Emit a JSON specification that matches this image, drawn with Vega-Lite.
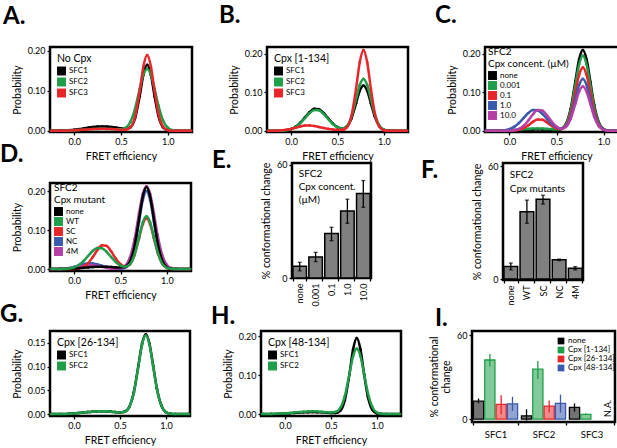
{
  "$schema": "https://vega.github.io/schema/vega-lite/v6.json",
  "background": "white",
  "padding": {"left": -2, "top": 2, "right": 0, "bottom": 0},
  "config": {
    "font": "Lato",
    "view": {"stroke": "black", "strokeWidth": 2.5},
    "axis": {"grid": false, "domain": false, "tickColor": "black", "tickWidth": 1.3, "tickSize": 3, "labelColor": "black", "labelFontSize": 9, "titleColor": "black", "titleFontSize": 10.5, "titleFontWeight": "normal", "labelPadding": 2, "titlePadding": 5},
    "legend": {"orient": "top-left", "offset": 7, "padding": 0, "titleFontSize": 10.5, "titleFontWeight": "normal", "titleColor": "black", "labelFontSize": 8, "labelColor": "black", "symbolType": "square", "symbolSize": 80, "symbolStrokeWidth": 0, "symbolOpacity": 1, "rowPadding": 2, "titlePadding": 2, "labelOffset": 3},
    "title": {"fontSize": 24, "fontWeight": "bold", "anchor": "start", "frame": "group", "offset": 0, "baseline": "top", "color": "black"},
    "point": {"filled": true, "size": 7, "opacity": 1}
  },
  "datasets": {
    "A": [
      {"s":"SFC1","x":-0.25,"y":0.0001},{"s":"SFC1","x":-0.15,"y":0.0005},{"s":"SFC1","x":-0.05,"y":0.0017},{"s":"SFC1","x":0,"y":0.0027},{"s":"SFC1","x":0.05,"y":0.0042},{"s":"SFC1","x":0.1,"y":0.0059},{"s":"SFC1","x":0.15,"y":0.0078},{"s":"SFC1","x":0.2,"y":0.0094},{"s":"SFC1","x":0.25,"y":0.0106},{"s":"SFC1","x":0.3,"y":0.011},{"s":"SFC1","x":0.35,"y":0.0106},{"s":"SFC1","x":0.4,"y":0.0094},{"s":"SFC1","x":0.45,"y":0.0078},{"s":"SFC1","x":0.5,"y":0.006},{"s":"SFC1","x":0.55,"y":0.0049},{"s":"SFC1","x":0.6,"y":0.0088},{"s":"SFC1","x":0.65,"y":0.031},{"s":"SFC1","x":0.7,"y":0.0867},{"s":"SFC1","x":0.74,"y":0.1406},{"s":"SFC1","x":0.78,"y":0.1653},{"s":"SFC1","x":0.82,"y":0.1403},{"s":"SFC1","x":0.86,"y":0.0859},{"s":"SFC1","x":0.9,"y":0.038},{"s":"SFC1","x":0.95,"y":0.0087},{"s":"SFC1","x":1,"y":0.0012},{"s":"SFC1","x":1.05,"y":0.0001},{"s":"SFC1","x":1.1,"y":0},{"s":"SFC1","x":1.25,"y":0},
      {"s":"SFC2","x":-0.25,"y":0.0001},{"s":"SFC2","x":-0.15,"y":0.0002},{"s":"SFC2","x":-0.05,"y":0.0008},{"s":"SFC2","x":0,"y":0.0012},{"s":"SFC2","x":0.05,"y":0.0019},{"s":"SFC2","x":0.1,"y":0.0027},{"s":"SFC2","x":0.15,"y":0.0035},{"s":"SFC2","x":0.2,"y":0.0043},{"s":"SFC2","x":0.25,"y":0.0048},{"s":"SFC2","x":0.3,"y":0.005},{"s":"SFC2","x":0.35,"y":0.0048},{"s":"SFC2","x":0.4,"y":0.0043},{"s":"SFC2","x":0.45,"y":0.0037},{"s":"SFC2","x":0.5,"y":0.0039},{"s":"SFC2","x":0.55,"y":0.0078},{"s":"SFC2","x":0.6,"y":0.0222},{"s":"SFC2","x":0.65,"y":0.0553},{"s":"SFC2","x":0.7,"y":0.1049},{"s":"SFC2","x":0.74,"y":0.1407},{"s":"SFC2","x":0.78,"y":0.1551},{"s":"SFC2","x":0.82,"y":0.1405},{"s":"SFC2","x":0.86,"y":0.1045},{"s":"SFC2","x":0.9,"y":0.0637},{"s":"SFC2","x":0.95,"y":0.026},{"s":"SFC2","x":1,"y":0.0078},{"s":"SFC2","x":1.05,"y":0.0017},{"s":"SFC2","x":1.1,"y":0.0003},{"s":"SFC2","x":1.25,"y":0},
      {"s":"SFC3","x":-0.25,"y":0.0001},{"s":"SFC3","x":-0.15,"y":0.0002},{"s":"SFC3","x":-0.05,"y":0.0008},{"s":"SFC3","x":0,"y":0.0012},{"s":"SFC3","x":0.05,"y":0.0019},{"s":"SFC3","x":0.1,"y":0.0027},{"s":"SFC3","x":0.15,"y":0.0035},{"s":"SFC3","x":0.2,"y":0.0043},{"s":"SFC3","x":0.25,"y":0.0048},{"s":"SFC3","x":0.3,"y":0.005},{"s":"SFC3","x":0.35,"y":0.0048},{"s":"SFC3","x":0.4,"y":0.0043},{"s":"SFC3","x":0.45,"y":0.0035},{"s":"SFC3","x":0.5,"y":0.0028},{"s":"SFC3","x":0.55,"y":0.0028},{"s":"SFC3","x":0.6,"y":0.0082},{"s":"SFC3","x":0.65,"y":0.0346},{"s":"SFC3","x":0.7,"y":0.0992},{"s":"SFC3","x":0.74,"y":0.1616},{"s":"SFC3","x":0.78,"y":0.19},{"s":"SFC3","x":0.82,"y":0.1613},{"s":"SFC3","x":0.86,"y":0.0988},{"s":"SFC3","x":0.9,"y":0.0437},{"s":"SFC3","x":0.95,"y":0.01},{"s":"SFC3","x":1,"y":0.0014},{"s":"SFC3","x":1.05,"y":0.0001},{"s":"SFC3","x":1.1,"y":0},{"s":"SFC3","x":1.25,"y":0}
    ],
    "B": [
      {"s":"SFC1","x":-0.25,"y":0},{"s":"SFC1","x":-0.15,"y":0.0001},{"s":"SFC1","x":-0.05,"y":0.0017},{"s":"SFC1","x":0,"y":0.0046},{"s":"SFC1","x":0.05,"y":0.0108},{"s":"SFC1","x":0.1,"y":0.0213},{"s":"SFC1","x":0.15,"y":0.0352},{"s":"SFC1","x":0.2,"y":0.049},{"s":"SFC1","x":0.25,"y":0.0572},{"s":"SFC1","x":0.3,"y":0.0562},{"s":"SFC1","x":0.35,"y":0.0465},{"s":"SFC1","x":0.4,"y":0.0322},{"s":"SFC1","x":0.45,"y":0.0189},{"s":"SFC1","x":0.5,"y":0.0095},{"s":"SFC1","x":0.55,"y":0.0057},{"s":"SFC1","x":0.6,"y":0.0107},{"s":"SFC1","x":0.65,"y":0.0319},{"s":"SFC1","x":0.7,"y":0.0717},{"s":"SFC1","x":0.74,"y":0.1041},{"s":"SFC1","x":0.78,"y":0.118},{"s":"SFC1","x":0.82,"y":0.1041},{"s":"SFC1","x":0.86,"y":0.0716},{"s":"SFC1","x":0.9,"y":0.0384},{"s":"SFC1","x":0.95,"y":0.0123},{"s":"SFC1","x":1,"y":0.0027},{"s":"SFC1","x":1.05,"y":0.0004},{"s":"SFC1","x":1.1,"y":0},{"s":"SFC1","x":1.25,"y":0},
      {"s":"SFC2","x":-0.25,"y":0},{"s":"SFC2","x":-0.15,"y":0.0001},{"s":"SFC2","x":-0.05,"y":0.0016},{"s":"SFC2","x":0,"y":0.0044},{"s":"SFC2","x":0.05,"y":0.0102},{"s":"SFC2","x":0.1,"y":0.0202},{"s":"SFC2","x":0.15,"y":0.0334},{"s":"SFC2","x":0.2,"y":0.0464},{"s":"SFC2","x":0.25,"y":0.0542},{"s":"SFC2","x":0.3,"y":0.0533},{"s":"SFC2","x":0.35,"y":0.0441},{"s":"SFC2","x":0.4,"y":0.0306},{"s":"SFC2","x":0.45,"y":0.0179},{"s":"SFC2","x":0.5,"y":0.009},{"s":"SFC2","x":0.55,"y":0.0058},{"s":"SFC2","x":0.6,"y":0.012},{"s":"SFC2","x":0.65,"y":0.0364},{"s":"SFC2","x":0.7,"y":0.082},{"s":"SFC2","x":0.74,"y":0.1191},{"s":"SFC2","x":0.78,"y":0.135},{"s":"SFC2","x":0.82,"y":0.1191},{"s":"SFC2","x":0.86,"y":0.0819},{"s":"SFC2","x":0.9,"y":0.0439},{"s":"SFC2","x":0.95,"y":0.0141},{"s":"SFC2","x":1,"y":0.0031},{"s":"SFC2","x":1.05,"y":0.0005},{"s":"SFC2","x":1.1,"y":0},{"s":"SFC2","x":1.25,"y":0},
      {"s":"SFC3","x":-0.25,"y":0.0001},{"s":"SFC3","x":-0.15,"y":0.0005},{"s":"SFC3","x":-0.05,"y":0.0026},{"s":"SFC3","x":0,"y":0.005},{"s":"SFC3","x":0.05,"y":0.0082},{"s":"SFC3","x":0.1,"y":0.0115},{"s":"SFC3","x":0.15,"y":0.0136},{"s":"SFC3","x":0.2,"y":0.0141},{"s":"SFC3","x":0.25,"y":0.0126},{"s":"SFC3","x":0.3,"y":0.0101},{"s":"SFC3","x":0.35,"y":0.0074},{"s":"SFC3","x":0.4,"y":0.0051},{"s":"SFC3","x":0.45,"y":0.0035},{"s":"SFC3","x":0.5,"y":0.0026},{"s":"SFC3","x":0.55,"y":0.0026},{"s":"SFC3","x":0.6,"y":0.0087},{"s":"SFC3","x":0.65,"y":0.038},{"s":"SFC3","x":0.7,"y":0.1095},{"s":"SFC3","x":0.74,"y":0.1785},{"s":"SFC3","x":0.78,"y":0.21},{"s":"SFC3","x":0.82,"y":0.1783},{"s":"SFC3","x":0.86,"y":0.1092},{"s":"SFC3","x":0.9,"y":0.0483},{"s":"SFC3","x":0.95,"y":0.011},{"s":"SFC3","x":1,"y":0.0015},{"s":"SFC3","x":1.05,"y":0.0001},{"s":"SFC3","x":1.1,"y":0},{"s":"SFC3","x":1.25,"y":0}
    ],
    "C": [
      {"s":"none","x":-0.25,"y":0},{"s":"none","x":-0.15,"y":0.0002},{"s":"none","x":-0.05,"y":0.0006},{"s":"none","x":0,"y":0.001},{"s":"none","x":0.05,"y":0.0015},{"s":"none","x":0.1,"y":0.0022},{"s":"none","x":0.15,"y":0.0028},{"s":"none","x":0.2,"y":0.0034},{"s":"none","x":0.25,"y":0.0038},{"s":"none","x":0.3,"y":0.004},{"s":"none","x":0.35,"y":0.0038},{"s":"none","x":0.4,"y":0.0034},{"s":"none","x":0.45,"y":0.0028},{"s":"none","x":0.5,"y":0.0027},{"s":"none","x":0.55,"y":0.0049},{"s":"none","x":0.6,"y":0.0177},{"s":"none","x":0.65,"y":0.0567},{"s":"none","x":0.7,"y":0.1278},{"s":"none","x":0.74,"y":0.1854},{"s":"none","x":0.78,"y":0.2101},{"s":"none","x":0.82,"y":0.1852},{"s":"none","x":0.86,"y":0.1275},{"s":"none","x":0.9,"y":0.0683},{"s":"none","x":0.95,"y":0.022},{"s":"none","x":1,"y":0.0048},{"s":"none","x":1.05,"y":0.0007},{"s":"none","x":1.1,"y":0.0001},{"s":"none","x":1.25,"y":0},
      {"s":"0.001","x":-0.25,"y":0.0001},{"s":"0.001","x":-0.15,"y":0.0003},{"s":"0.001","x":-0.05,"y":0.0009},{"s":"0.001","x":0,"y":0.0015},{"s":"0.001","x":0.05,"y":0.0023},{"s":"0.001","x":0.1,"y":0.0032},{"s":"0.001","x":0.15,"y":0.0042},{"s":"0.001","x":0.2,"y":0.0051},{"s":"0.001","x":0.25,"y":0.0058},{"s":"0.001","x":0.3,"y":0.006},{"s":"0.001","x":0.35,"y":0.0058},{"s":"0.001","x":0.4,"y":0.0051},{"s":"0.001","x":0.45,"y":0.0043},{"s":"0.001","x":0.5,"y":0.0036},{"s":"0.001","x":0.55,"y":0.0054},{"s":"0.001","x":0.6,"y":0.017},{"s":"0.001","x":0.65,"y":0.053},{"s":"0.001","x":0.7,"y":0.1189},{"s":"0.001","x":0.74,"y":0.1723},{"s":"0.001","x":0.78,"y":0.1952},{"s":"0.001","x":0.82,"y":0.1721},{"s":"0.001","x":0.86,"y":0.1184},{"s":"0.001","x":0.9,"y":0.0634},{"s":"0.001","x":0.95,"y":0.0204},{"s":"0.001","x":1,"y":0.0044},{"s":"0.001","x":1.05,"y":0.0007},{"s":"0.001","x":1.1,"y":0.0001},{"s":"0.001","x":1.25,"y":0},
      {"s":"0.1","x":-0.25,"y":0},{"s":"0.1","x":-0.15,"y":0},{"s":"0.1","x":-0.05,"y":0},{"s":"0.1","x":0,"y":0.0002},{"s":"0.1","x":0.05,"y":0.0008},{"s":"0.1","x":0.1,"y":0.0027},{"s":"0.1","x":0.15,"y":0.0071},{"s":"0.1","x":0.2,"y":0.0146},{"s":"0.1","x":0.25,"y":0.0235},{"s":"0.1","x":0.3,"y":0.0294},{"s":"0.1","x":0.35,"y":0.0287},{"s":"0.1","x":0.4,"y":0.0218},{"s":"0.1","x":0.45,"y":0.0129},{"s":"0.1","x":0.5,"y":0.0063},{"s":"0.1","x":0.55,"y":0.0047},{"s":"0.1","x":0.6,"y":0.0137},{"s":"0.1","x":0.65,"y":0.0442},{"s":"0.1","x":0.7,"y":0.1002},{"s":"0.1","x":0.74,"y":0.1455},{"s":"0.1","x":0.78,"y":0.165},{"s":"0.1","x":0.82,"y":0.1455},{"s":"0.1","x":0.86,"y":0.1002},{"s":"0.1","x":0.9,"y":0.0536},{"s":"0.1","x":0.95,"y":0.0173},{"s":"0.1","x":1,"y":0.0038},{"s":"0.1","x":1.05,"y":0.0006},{"s":"0.1","x":1.1,"y":0},{"s":"0.1","x":1.25,"y":0},
      {"s":"1.0","x":-0.25,"y":0},{"s":"1.0","x":-0.15,"y":0.0001},{"s":"1.0","x":-0.05,"y":0.0016},{"s":"1.0","x":0,"y":0.0044},{"s":"1.0","x":0.05,"y":0.0102},{"s":"1.0","x":0.1,"y":0.0202},{"s":"1.0","x":0.15,"y":0.0334},{"s":"1.0","x":0.2,"y":0.0464},{"s":"1.0","x":0.25,"y":0.0542},{"s":"1.0","x":0.3,"y":0.0533},{"s":"1.0","x":0.35,"y":0.0441},{"s":"1.0","x":0.4,"y":0.0306},{"s":"1.0","x":0.45,"y":0.0179},{"s":"1.0","x":0.5,"y":0.009},{"s":"1.0","x":0.55,"y":0.0058},{"s":"1.0","x":0.6,"y":0.012},{"s":"1.0","x":0.65,"y":0.0364},{"s":"1.0","x":0.7,"y":0.082},{"s":"1.0","x":0.74,"y":0.1191},{"s":"1.0","x":0.78,"y":0.135},{"s":"1.0","x":0.82,"y":0.1191},{"s":"1.0","x":0.86,"y":0.0819},{"s":"1.0","x":0.9,"y":0.0439},{"s":"1.0","x":0.95,"y":0.0141},{"s":"1.0","x":1,"y":0.0031},{"s":"1.0","x":1.05,"y":0.0005},{"s":"1.0","x":1.1,"y":0},{"s":"1.0","x":1.25,"y":0},
      {"s":"10.0","x":-0.25,"y":0},{"s":"10.0","x":-0.15,"y":0},{"s":"10.0","x":-0.05,"y":0.0001},{"s":"10.0","x":0,"y":0.0003},{"s":"10.0","x":0.05,"y":0.0014},{"s":"10.0","x":0.1,"y":0.0049},{"s":"10.0","x":0.15,"y":0.013},{"s":"10.0","x":0.2,"y":0.0268},{"s":"10.0","x":0.25,"y":0.0431},{"s":"10.0","x":0.3,"y":0.0539},{"s":"10.0","x":0.35,"y":0.0526},{"s":"10.0","x":0.4,"y":0.0399},{"s":"10.0","x":0.45,"y":0.0237},{"s":"10.0","x":0.5,"y":0.0112},{"s":"10.0","x":0.55,"y":0.0057},{"s":"10.0","x":0.6,"y":0.0103},{"s":"10.0","x":0.65,"y":0.0309},{"s":"10.0","x":0.7,"y":0.0698},{"s":"10.0","x":0.74,"y":0.1014},{"s":"10.0","x":0.78,"y":0.115},{"s":"10.0","x":0.82,"y":0.1014},{"s":"10.0","x":0.86,"y":0.0698},{"s":"10.0","x":0.9,"y":0.0374},{"s":"10.0","x":0.95,"y":0.012},{"s":"10.0","x":1,"y":0.0026},{"s":"10.0","x":1.05,"y":0.0004},{"s":"10.0","x":1.1,"y":0},{"s":"10.0","x":1.25,"y":0}
    ],
    "D": [
      {"s":"NC","x":-0.25,"y":0},{"s":"NC","x":-0.15,"y":0.0004},{"s":"NC","x":-0.05,"y":0.0028},{"s":"NC","x":0,"y":0.0055},{"s":"NC","x":0.05,"y":0.0091},{"s":"NC","x":0.1,"y":0.0127},{"s":"NC","x":0.15,"y":0.0148},{"s":"NC","x":0.2,"y":0.0145},{"s":"NC","x":0.25,"y":0.012},{"s":"NC","x":0.3,"y":0.0083},{"s":"NC","x":0.35,"y":0.0049},{"s":"NC","x":0.4,"y":0.0024},{"s":"NC","x":0.45,"y":0.001},{"s":"NC","x":0.5,"y":0.0007},{"s":"NC","x":0.55,"y":0.0033},{"s":"NC","x":0.6,"y":0.0159},{"s":"NC","x":0.65,"y":0.0534},{"s":"NC","x":0.7,"y":0.1214},{"s":"NC","x":0.74,"y":0.1764},{"s":"NC","x":0.78,"y":0.2},{"s":"NC","x":0.82,"y":0.1764},{"s":"NC","x":0.86,"y":0.1214},{"s":"NC","x":0.9,"y":0.065},{"s":"NC","x":0.95,"y":0.0209},{"s":"NC","x":1,"y":0.0046},{"s":"NC","x":1.05,"y":0.0007},{"s":"NC","x":1.1,"y":0.0001},{"s":"NC","x":1.25,"y":0},
      {"s":"4M","x":-0.25,"y":0},{"s":"4M","x":-0.15,"y":0.0003},{"s":"4M","x":-0.05,"y":0.0019},{"s":"4M","x":0,"y":0.0037},{"s":"4M","x":0.05,"y":0.0061},{"s":"4M","x":0.1,"y":0.0084},{"s":"4M","x":0.15,"y":0.0099},{"s":"4M","x":0.2,"y":0.0097},{"s":"4M","x":0.25,"y":0.008},{"s":"4M","x":0.3,"y":0.0056},{"s":"4M","x":0.35,"y":0.0033},{"s":"4M","x":0.4,"y":0.0016},{"s":"4M","x":0.45,"y":0.001},{"s":"4M","x":0.5,"y":0.0019},{"s":"4M","x":0.55,"y":0.0082},{"s":"4M","x":0.6,"y":0.0286},{"s":"4M","x":0.65,"y":0.0746},{"s":"4M","x":0.7,"y":0.1429},{"s":"4M","x":0.74,"y":0.1921},{"s":"4M","x":0.78,"y":0.212},{"s":"4M","x":0.82,"y":0.1921},{"s":"4M","x":0.86,"y":0.1429},{"s":"4M","x":0.9,"y":0.0871},{"s":"4M","x":0.95,"y":0.0356},{"s":"4M","x":1,"y":0.0107},{"s":"4M","x":1.05,"y":0.0024},{"s":"4M","x":1.1,"y":0.0004},{"s":"4M","x":1.25,"y":0},
      {"s":"SC","x":-0.25,"y":0},{"s":"SC","x":-0.15,"y":0},{"s":"SC","x":-0.05,"y":0.0001},{"s":"SC","x":0,"y":0.0004},{"s":"SC","x":0.05,"y":0.0016},{"s":"SC","x":0.1,"y":0.0055},{"s":"SC","x":0.15,"y":0.0146},{"s":"SC","x":0.2,"y":0.0302},{"s":"SC","x":0.25,"y":0.0485},{"s":"SC","x":0.3,"y":0.0608},{"s":"SC","x":0.35,"y":0.0593},{"s":"SC","x":0.4,"y":0.045},{"s":"SC","x":0.45,"y":0.0267},{"s":"SC","x":0.5,"y":0.0126},{"s":"SC","x":0.55,"y":0.0065},{"s":"SC","x":0.6,"y":0.0115},{"s":"SC","x":0.65,"y":0.035},{"s":"SC","x":0.7,"y":0.0789},{"s":"SC","x":0.74,"y":0.1147},{"s":"SC","x":0.78,"y":0.13},{"s":"SC","x":0.82,"y":0.1147},{"s":"SC","x":0.86,"y":0.0789},{"s":"SC","x":0.9,"y":0.0423},{"s":"SC","x":0.95,"y":0.0136},{"s":"SC","x":1,"y":0.003},{"s":"SC","x":1.05,"y":0.0004},{"s":"SC","x":1.1,"y":0},{"s":"SC","x":1.25,"y":0},
      {"s":"none","x":-0.25,"y":0.0001},{"s":"none","x":-0.15,"y":0.0003},{"s":"none","x":-0.05,"y":0.0009},{"s":"none","x":0,"y":0.0015},{"s":"none","x":0.05,"y":0.0023},{"s":"none","x":0.1,"y":0.0033},{"s":"none","x":0.15,"y":0.0042},{"s":"none","x":0.2,"y":0.0051},{"s":"none","x":0.25,"y":0.0057},{"s":"none","x":0.3,"y":0.006},{"s":"none","x":0.35,"y":0.0057},{"s":"none","x":0.4,"y":0.0051},{"s":"none","x":0.45,"y":0.0042},{"s":"none","x":0.5,"y":0.0038},{"s":"none","x":0.55,"y":0.0057},{"s":"none","x":0.6,"y":0.0182},{"s":"none","x":0.65,"y":0.057},{"s":"none","x":0.7,"y":0.128},{"s":"none","x":0.74,"y":0.1855},{"s":"none","x":0.78,"y":0.2102},{"s":"none","x":0.82,"y":0.1852},{"s":"none","x":0.86,"y":0.1275},{"s":"none","x":0.9,"y":0.0683},{"s":"none","x":0.95,"y":0.022},{"s":"none","x":1,"y":0.0048},{"s":"none","x":1.05,"y":0.0007},{"s":"none","x":1.1,"y":0.0001},{"s":"none","x":1.25,"y":0},
      {"s":"WT","x":-0.25,"y":0},{"s":"WT","x":-0.15,"y":0.0001},{"s":"WT","x":-0.05,"y":0.0016},{"s":"WT","x":0,"y":0.0044},{"s":"WT","x":0.05,"y":0.0102},{"s":"WT","x":0.1,"y":0.0202},{"s":"WT","x":0.15,"y":0.0334},{"s":"WT","x":0.2,"y":0.0464},{"s":"WT","x":0.25,"y":0.0542},{"s":"WT","x":0.3,"y":0.0533},{"s":"WT","x":0.35,"y":0.0441},{"s":"WT","x":0.4,"y":0.0306},{"s":"WT","x":0.45,"y":0.0179},{"s":"WT","x":0.5,"y":0.009},{"s":"WT","x":0.55,"y":0.0058},{"s":"WT","x":0.6,"y":0.012},{"s":"WT","x":0.65,"y":0.0364},{"s":"WT","x":0.7,"y":0.082},{"s":"WT","x":0.74,"y":0.1191},{"s":"WT","x":0.78,"y":0.135},{"s":"WT","x":0.82,"y":0.1191},{"s":"WT","x":0.86,"y":0.0819},{"s":"WT","x":0.9,"y":0.0439},{"s":"WT","x":0.95,"y":0.0141},{"s":"WT","x":1,"y":0.0031},{"s":"WT","x":1.05,"y":0.0005},{"s":"WT","x":1.1,"y":0},{"s":"WT","x":1.25,"y":0}
    ],
    "G": [
      {"s":"SFC1","x":-0.25,"y":0.0001},{"s":"SFC1","x":-0.15,"y":0.0003},{"s":"SFC1","x":-0.05,"y":0.0009},{"s":"SFC1","x":0,"y":0.0015},{"s":"SFC1","x":0.05,"y":0.0023},{"s":"SFC1","x":0.1,"y":0.0032},{"s":"SFC1","x":0.15,"y":0.0042},{"s":"SFC1","x":0.2,"y":0.0051},{"s":"SFC1","x":0.25,"y":0.0058},{"s":"SFC1","x":0.3,"y":0.006},{"s":"SFC1","x":0.35,"y":0.0058},{"s":"SFC1","x":0.4,"y":0.0051},{"s":"SFC1","x":0.45,"y":0.0042},{"s":"SFC1","x":0.5,"y":0.0036},{"s":"SFC1","x":0.55,"y":0.005},{"s":"SFC1","x":0.6,"y":0.0149},{"s":"SFC1","x":0.65,"y":0.0458},{"s":"SFC1","x":0.7,"y":0.1025},{"s":"SFC1","x":0.74,"y":0.1485},{"s":"SFC1","x":0.78,"y":0.1682},{"s":"SFC1","x":0.82,"y":0.1483},{"s":"SFC1","x":0.86,"y":0.102},{"s":"SFC1","x":0.9,"y":0.0546},{"s":"SFC1","x":0.95,"y":0.0176},{"s":"SFC1","x":1,"y":0.0038},{"s":"SFC1","x":1.05,"y":0.0006},{"s":"SFC1","x":1.1,"y":0.0001},{"s":"SFC1","x":1.25,"y":0},
      {"s":"SFC2","x":-0.25,"y":0.0001},{"s":"SFC2","x":-0.15,"y":0.0003},{"s":"SFC2","x":-0.05,"y":0.0009},{"s":"SFC2","x":0,"y":0.0015},{"s":"SFC2","x":0.05,"y":0.0023},{"s":"SFC2","x":0.1,"y":0.0032},{"s":"SFC2","x":0.15,"y":0.0042},{"s":"SFC2","x":0.2,"y":0.0051},{"s":"SFC2","x":0.25,"y":0.0058},{"s":"SFC2","x":0.3,"y":0.006},{"s":"SFC2","x":0.35,"y":0.0058},{"s":"SFC2","x":0.4,"y":0.0051},{"s":"SFC2","x":0.45,"y":0.0042},{"s":"SFC2","x":0.5,"y":0.0036},{"s":"SFC2","x":0.55,"y":0.005},{"s":"SFC2","x":0.6,"y":0.0147},{"s":"SFC2","x":0.65,"y":0.0452},{"s":"SFC2","x":0.7,"y":0.1013},{"s":"SFC2","x":0.74,"y":0.1467},{"s":"SFC2","x":0.78,"y":0.1662},{"s":"SFC2","x":0.82,"y":0.1465},{"s":"SFC2","x":0.86,"y":0.1009},{"s":"SFC2","x":0.9,"y":0.054},{"s":"SFC2","x":0.95,"y":0.0174},{"s":"SFC2","x":1,"y":0.0038},{"s":"SFC2","x":1.05,"y":0.0006},{"s":"SFC2","x":1.1,"y":0},{"s":"SFC2","x":1.25,"y":0}
    ],
    "H": [
      {"s":"SFC1","x":-0.25,"y":0},{"s":"SFC1","x":-0.15,"y":0.0002},{"s":"SFC1","x":-0.05,"y":0.0008},{"s":"SFC1","x":0,"y":0.0012},{"s":"SFC1","x":0.05,"y":0.0019},{"s":"SFC1","x":0.1,"y":0.0027},{"s":"SFC1","x":0.15,"y":0.0035},{"s":"SFC1","x":0.2,"y":0.0043},{"s":"SFC1","x":0.25,"y":0.0048},{"s":"SFC1","x":0.3,"y":0.005},{"s":"SFC1","x":0.35,"y":0.0048},{"s":"SFC1","x":0.4,"y":0.0043},{"s":"SFC1","x":0.45,"y":0.0035},{"s":"SFC1","x":0.5,"y":0.0028},{"s":"SFC1","x":0.55,"y":0.0028},{"s":"SFC1","x":0.6,"y":0.0084},{"s":"SFC1","x":0.65,"y":0.0355},{"s":"SFC1","x":0.7,"y":0.1018},{"s":"SFC1","x":0.74,"y":0.1659},{"s":"SFC1","x":0.78,"y":0.1951},{"s":"SFC1","x":0.82,"y":0.1656},{"s":"SFC1","x":0.86,"y":0.1014},{"s":"SFC1","x":0.9,"y":0.0449},{"s":"SFC1","x":0.95,"y":0.0102},{"s":"SFC1","x":1,"y":0.0014},{"s":"SFC1","x":1.05,"y":0.0001},{"s":"SFC1","x":1.1,"y":0},{"s":"SFC1","x":1.25,"y":0},
      {"s":"SFC2","x":-0.25,"y":0.0001},{"s":"SFC2","x":-0.15,"y":0.0003},{"s":"SFC2","x":-0.05,"y":0.0011},{"s":"SFC2","x":0,"y":0.0017},{"s":"SFC2","x":0.05,"y":0.0027},{"s":"SFC2","x":0.1,"y":0.0038},{"s":"SFC2","x":0.15,"y":0.0049},{"s":"SFC2","x":0.2,"y":0.006},{"s":"SFC2","x":0.25,"y":0.0067},{"s":"SFC2","x":0.3,"y":0.007},{"s":"SFC2","x":0.35,"y":0.0067},{"s":"SFC2","x":0.4,"y":0.006},{"s":"SFC2","x":0.45,"y":0.0049},{"s":"SFC2","x":0.5,"y":0.0042},{"s":"SFC2","x":0.55,"y":0.0054},{"s":"SFC2","x":0.6,"y":0.0151},{"s":"SFC2","x":0.65,"y":0.046},{"s":"SFC2","x":0.7,"y":0.1026},{"s":"SFC2","x":0.74,"y":0.1486},{"s":"SFC2","x":0.78,"y":0.1682},{"s":"SFC2","x":0.82,"y":0.1483},{"s":"SFC2","x":0.86,"y":0.102},{"s":"SFC2","x":0.9,"y":0.0546},{"s":"SFC2","x":0.95,"y":0.0176},{"s":"SFC2","x":1,"y":0.0038},{"s":"SFC2","x":1.05,"y":0.0006},{"s":"SFC2","x":1.1,"y":0.0001},{"s":"SFC2","x":1.25,"y":0}
    ],
    "E": [
      {"c":"none","v":6.2,"lo":3.8,"hi":8.3},
      {"c":"0.001","v":11.2,"lo":8.7,"hi":13.6},
      {"c":"0.1","v":23.6,"lo":19.8,"hi":26.9},
      {"c":"1.0","v":35.6,"lo":29,"hi":41.8},
      {"c":"10.0","v":44.8,"lo":37.5,"hi":51.7}
    ],
    "F": [
      {"c":"none","v":6.6,"lo":4.9,"hi":8.5},
      {"c":"WT","v":35.7,"lo":29.6,"hi":41.9},
      {"c":"SC","v":42.3,"lo":39.8,"hi":44.5},
      {"c":"NC","v":10.2,"lo":9.8,"hi":10.6},
      {"c":"4M","v":5.8,"lo":4.9,"hi":6.6}
    ],
    "I": [
      {"g":"SFC1","s":"none","v":12.9,"lo":11.3,"hi":14.8},
      {"g":"SFC1","s":"Cpx [1-134]","v":42.3,"lo":37.6,"hi":46.6},
      {"g":"SFC1","s":"Cpx [26-134]","v":10.6,"lo":3.5,"hi":17.1},
      {"g":"SFC1","s":"Cpx [48-134]","v":11,"lo":5.9,"hi":16},
      {"g":"SFC2","s":"none","v":2.4,"lo":-1,"hi":7.1},
      {"g":"SFC2","s":"Cpx [1-134]","v":35.7,"lo":28.7,"hi":41.6},
      {"g":"SFC2","s":"Cpx [26-134]","v":9.4,"lo":4.7,"hi":13.4},
      {"g":"SFC2","s":"Cpx [48-134]","v":11.3,"lo":4.7,"hi":17.6},
      {"g":"SFC3","s":"none","v":8.5,"lo":5.4,"hi":11.3},
      {"g":"SFC3","s":"Cpx [1-134]","v":3.5,"lo":3.1,"hi":4.2}
    ]
  },
  "resolve": {"scale": {"color": "independent"}, "legend": {"color": "independent"}},
  "spacing": -24,
  "vconcat": [
    {
      "spacing": 19,
      "resolve": {"scale": {"color": "independent"}, "legend": {"color": "independent"}},
      "hconcat": [
        {
          "width": 142, "height": 85,
          "title": {"text": "A.", "dx": -47, "dy": -13.5},
          "data": {"name": "A"},
          "encoding": {
            "x": {"field": "x", "type": "quantitative", "scale": {"domain": [-0.26, 1.26], "nice": false, "zero": false}, "axis": {"values": [0, 0.5, 1], "format": ".1f", "title": "FRET efficiency"}},
            "y": {"field": "y", "type": "quantitative", "scale": {"domain": [-0.003, 0.21], "nice": false, "zero": false}, "axis": {"values": [0, 0.1, 0.2], "format": ".2f", "title": "Probability"}},
            "color": {"field": "s", "type": "nominal", "scale": {"domain": ["SFC1", "SFC2", "SFC3"], "range": ["#000000", "#1e9e48", "#e8262a"]}, "legend": {"title": "No Cpx"}}
          },
          "layer": [{"mark": "point"}, {"mark": {"type": "line", "interpolate": "monotone", "strokeWidth": 2.5}}]
        },
        {
          "spacing": 19,
          "resolve": {"scale": {"color": "independent"}, "legend": {"color": "independent"}},
          "hconcat": [
            {
              "width": 141, "height": 85,
              "title": {"text": "B.", "dx": -48, "dy": -13.5},
              "data": {"name": "B"},
              "encoding": {
                "x": {"field": "x", "type": "quantitative", "scale": {"domain": [-0.26, 1.26], "nice": false, "zero": false}, "axis": {"values": [0, 0.5, 1], "format": ".1f", "title": "FRET efficiency"}},
                "y": {"field": "y", "type": "quantitative", "scale": {"domain": [-0.003, 0.218], "nice": false, "zero": false}, "axis": {"values": [0, 0.1, 0.2], "format": ".2f", "title": "Probability"}},
                "color": {"field": "s", "type": "nominal", "scale": {"domain": ["SFC1", "SFC2", "SFC3"], "range": ["#000000", "#1e9e48", "#e8262a"]}, "legend": {"title": "Cpx [1-134]"}}
              },
              "layer": [{"mark": "point"}, {"mark": {"type": "line", "interpolate": "monotone", "strokeWidth": 2.5}}]
            },
            {
              "width": 143, "height": 85,
              "title": {"text": "C.", "dx": -50, "dy": -13.5},
              "data": {"name": "C"},
              "encoding": {
                "x": {"field": "x", "type": "quantitative", "scale": {"domain": [-0.26, 1.26], "nice": false, "zero": false}, "axis": {"values": [0, 0.5, 1], "format": ".1f", "title": "FRET efficiency"}},
                "y": {"field": "y", "type": "quantitative", "scale": {"domain": [-0.003, 0.218], "nice": false, "zero": false}, "axis": {"values": [0, 0.1, 0.2], "format": ".2f", "title": "Probability"}},
                "color": {"field": "s", "type": "nominal", "scale": {"domain": ["none", "0.001", "0.1", "1.0", "10.0"], "range": ["#000000", "#1e9e48", "#e8262a", "#3a5aad", "#b53fa5"]}, "legend": {"title": ["SFC2", "Cpx concent. (µM)"], "orient": "none", "legendX": 3, "legendY": 0, "titleFontSize": 10, "titleLineHeight": 12, "rowPadding": 1}}
              },
              "layer": [{"mark": "point"}, {"mark": {"type": "line", "interpolate": "monotone", "strokeWidth": 2.5}}]
            }
          ]
        }
      ]
    },
    {
      "spacing": -7,
      "resolve": {"scale": {"color": "independent"}, "legend": {"color": "independent"}},
      "vconcat": [
        {
          "spacing": 13,
          "resolve": {"scale": {"color": "independent"}, "legend": {"color": "independent"}},
          "hconcat": [
            {
              "spacing": 13,
              "resolve": {"scale": {"color": "independent"}, "legend": {"color": "independent"}},
              "vconcat": [
                {
                  "width": 141, "height": 1,
                  "view": {"stroke": null},
                  "title": {"text": "D.", "dx": -50, "dy": 8.5},
                  "data": {"values": [{"s": "spacer"}]},
                  "mark": {"type": "point", "opacity": 0},
                  "encoding": {}
                },
                {
                  "width": 141, "height": 88,
                  "data": {"name": "D"},
                  "encoding": {
                    "x": {"field": "x", "type": "quantitative", "scale": {"domain": [-0.26, 1.26], "nice": false, "zero": false}, "axis": {"values": [0, 0.5, 1], "format": ".1f", "title": "FRET efficiency"}},
                    "y": {"field": "y", "type": "quantitative", "scale": {"domain": [-0.005, 0.2205], "nice": false, "zero": false}, "axis": {"values": [0, 0.1, 0.2], "format": ".2f", "title": "Probability"}},
                    "color": {"field": "s", "type": "nominal", "scale": {"domain": ["none", "WT", "SC", "NC", "4M"], "range": ["#000000", "#1e9e48", "#e8262a", "#3a5aad", "#b53fa5"]}, "legend": {"title": ["SFC2", "Cpx mutant"], "orient": "none", "legendX": 4, "legendY": 0, "titleFontSize": 10, "titleLineHeight": 12, "rowPadding": 1}}
                  },
                  "layer": [{"mark": "point"}, {"mark": {"type": "line", "interpolate": "monotone", "strokeWidth": 2.5}}]
                }
              ]
            },
            {
              "spacing": 46,
              "hconcat": [
                {
                  "width": 79, "height": 115,
                  "title": {"text": "E.", "dx": -80, "dy": 16.5},
                  "data": {"name": "E"},
                  "layer": [
                    {
                      "mark": {"type": "bar", "color": "#808080", "stroke": "black", "strokeWidth": 1.5},
                      "encoding": {
                        "x": {"field": "c", "type": "nominal", "sort": null, "scale": {"paddingInner": 0.15, "paddingOuter": 0.06}, "axis": {"title": null, "labelAngle": -90, "tickBand": "extent", "labelFontSize": 9}},
                        "y": {"field": "v", "type": "quantitative", "scale": {"domain": [0, 61], "nice": false}, "axis": {"values": [0, 20, 40, 60], "title": "% conformational change"}}
                      }
                    },
                    {
                      "mark": {"type": "errorbar", "color": "black", "thickness": 1.3, "ticks": {"size": 4}},
                      "encoding": {
                        "x": {"field": "c", "type": "nominal", "sort": null},
                        "y": {"field": "lo", "type": "quantitative", "title": "% conformational change"},
                        "y2": {"field": "hi"}
                      }
                    },
                    {
                      "data": {"values": [{"c": "none", "v": 58, "t": "SFC2\nCpx concent.\n (µM)"}]},
                      "mark": {"type": "text", "align": "left", "baseline": "top", "fontSize": 10, "lineHeight": 13, "lineBreak": "\n", "dx": -1, "color": "black"},
                      "encoding": {
                        "x": {"field": "c", "type": "nominal", "sort": null},
                        "y": {"field": "v", "type": "quantitative", "title": "% conformational change"},
                        "text": {"field": "t"}
                      }
                    }
                  ]
                },
                {
                  "width": 80, "height": 117,
                  "title": {"text": "F.", "dx": -82, "dy": 24.5},
                  "data": {"name": "F"},
                  "layer": [
                    {
                      "mark": {"type": "bar", "color": "#808080", "stroke": "black", "strokeWidth": 1.5},
                      "encoding": {
                        "x": {"field": "c", "type": "nominal", "sort": null, "scale": {"paddingInner": 0.15, "paddingOuter": 0.06}, "axis": {"title": null, "labelAngle": -90, "tickBand": "extent", "labelFontSize": 9}},
                        "y": {"field": "v", "type": "quantitative", "scale": {"domain": [-0.5, 61.6], "nice": false, "zero": false}, "axis": {"values": [0, 20, 40, 60], "title": "% conformational change"}}
                      }
                    },
                    {
                      "mark": {"type": "errorbar", "color": "black", "thickness": 1.3, "ticks": {"size": 4}},
                      "encoding": {
                        "x": {"field": "c", "type": "nominal", "sort": null},
                        "y": {"field": "lo", "type": "quantitative", "title": "% conformational change"},
                        "y2": {"field": "hi"}
                      }
                    },
                    {
                      "data": {"values": [{"c": "none", "v": 58, "t": "SFC2\nCpx mutants"}]},
                      "mark": {"type": "text", "align": "left", "baseline": "top", "fontSize": 10, "lineHeight": 14, "lineBreak": "\n", "dx": -1, "color": "black"},
                      "encoding": {
                        "x": {"field": "c", "type": "nominal", "sort": null},
                        "y": {"field": "v", "type": "quantitative", "title": "% conformational change"},
                        "text": {"field": "t"}
                      }
                    }
                  ]
                }
              ]
            }
          ]
        },
        {
          "spacing": 13,
          "resolve": {"scale": {"color": "independent"}, "legend": {"color": "independent"}},
          "hconcat": [
            {
              "width": 140, "height": 85,
              "title": {"text": "G.", "dx": -50, "dy": 1.5},
              "data": {"name": "G"},
              "encoding": {
                "x": {"field": "x", "type": "quantitative", "scale": {"domain": [-0.26, 1.26], "nice": false, "zero": false}, "axis": {"values": [0, 0.5, 1], "format": ".1f", "title": "FRET efficiency"}},
                "y": {"field": "y", "type": "quantitative", "scale": {"domain": [-0.004, 0.175], "nice": false, "zero": false}, "axis": {"values": [0, 0.05, 0.1, 0.15], "format": ".2f", "title": "Probability"}},
                "color": {"field": "s", "type": "nominal", "scale": {"domain": ["SFC1", "SFC2"], "range": ["#000000", "#1e9e48"]}, "legend": {"title": "Cpx [26-134]"}}
              },
              "layer": [{"mark": "point"}, {"mark": {"type": "line", "interpolate": "monotone", "strokeWidth": 2.5}}]
            },
            {
              "spacing": 20,
              "resolve": {"scale": {"color": "independent"}, "legend": {"color": "independent"}},
              "hconcat": [
                {
                  "width": 140, "height": 85,
                  "title": {"text": "H.", "dx": -50, "dy": 1.5},
                  "data": {"name": "H"},
                  "encoding": {
                    "x": {"field": "x", "type": "quantitative", "scale": {"domain": [-0.26, 1.26], "nice": false, "zero": false}, "axis": {"values": [0, 0.5, 1], "format": ".1f", "title": "FRET efficiency"}},
                    "y": {"field": "y", "type": "quantitative", "scale": {"domain": [-0.005, 0.213], "nice": false, "zero": false}, "axis": {"values": [0, 0.1, 0.2], "format": ".2f", "title": "Probability"}},
                    "color": {"field": "s", "type": "nominal", "scale": {"domain": ["SFC1", "SFC2"], "range": ["#000000", "#1e9e48"]}, "legend": {"title": "Cpx [48-134]"}}
                  },
                  "layer": [{"mark": "point"}, {"mark": {"type": "line", "interpolate": "monotone", "strokeWidth": 2.5}}]
                },
                {
                  "width": 143, "height": 91,
                  "title": {"text": "I.", "dx": -37, "dy": 3.5},
                  "data": {"name": "I"},
                  "layer": [
                    {
                      "mark": {"type": "bar", "fillOpacity": 0.55, "strokeWidth": 1.3},
                      "encoding": {
                        "x": {"field": "g", "type": "nominal", "scale": {"paddingInner": 0.08, "paddingOuter": 0.03}, "axis": {"title": null, "labelAngle": 0, "tickBand": "extent", "labelFontSize": 9.5, "labelPadding": 4}},
                        "xOffset": {"field": "s", "type": "nominal", "scale": {"domain": ["none", "Cpx [1-134]", "Cpx [26-134]", "Cpx [48-134]"], "paddingInner": 0.1}},
                        "y": {"field": "v", "type": "quantitative", "scale": {"domain": [-2, 63], "nice": false, "zero": false}, "axis": {"values": [0, 20, 40, 60], "title": ["% conformational", "change"]}},
                        "color": {"field": "s", "type": "nominal", "scale": {"domain": ["none", "Cpx [1-134]", "Cpx [26-134]", "Cpx [48-134]"], "range": ["#000000", "#1e9e48", "#e8262a", "#3a5aad"]}, "legend": {"title": null, "orient": "none", "legendX": 85, "legendY": 6, "labelFontSize": 8, "symbolSize": 45, "rowPadding": 1, "encode": {"symbols": {"update": {"fillOpacity": {"value": 1}, "strokeWidth": {"value": 0}}}}}},
                        "stroke": {"field": "s", "type": "nominal", "scale": {"domain": ["none", "Cpx [1-134]", "Cpx [26-134]", "Cpx [48-134]"], "range": ["#000000", "#1e9e48", "#e8262a", "#3a5aad"]}, "legend": null}
                      }
                    },
                    {
                      "mark": {"type": "rule", "strokeWidth": 1.3},
                      "encoding": {
                        "x": {"field": "g", "type": "nominal"},
                        "xOffset": {"field": "s", "type": "nominal"},
                        "y": {"field": "lo", "type": "quantitative", "title": ["% conformational", "change"]},
                        "y2": {"field": "hi"},
                        "stroke": {"field": "s", "type": "nominal", "legend": null}
                      }
                    },
                    {
                      "data": {"values": [{"g": "SFC3", "s": "Cpx [48-134]", "v": 1.5, "t": "N.A."}]},
                      "mark": {"type": "text", "angle": 270, "align": "left", "baseline": "middle", "fontSize": 9, "color": "black"},
                      "encoding": {
                        "x": {"field": "g", "type": "nominal"},
                        "xOffset": {"field": "s", "type": "nominal"},
                        "y": {"field": "v", "type": "quantitative", "title": ["% conformational", "change"]},
                        "text": {"field": "t"}
                      }
                    }
                  ]
                }
              ]
            }
          ]
        }
      ]
    }
  ]
}
